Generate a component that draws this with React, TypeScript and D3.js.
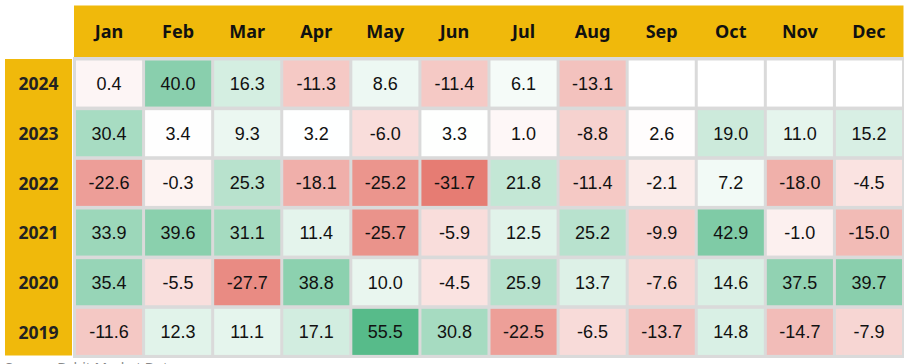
import * as d3 from 'd3';
import { useEffect, useRef } from 'react';

const months = ['Jan', 'Feb', 'Mar', 'Apr', 'May', 'Jun', 'Jul', 'Aug', 'Sep', 'Oct', 'Nov', 'Dec'];
const years = ['2024', '2023', '2022', '2021', '2020', '2019'];

const r2024 = [0.4, 40.0, 16.3, -11.3, 8.6, -11.4, 6.1, -13.1, null, null, null, null];
const r2023 = [30.4, 3.4, 9.3, 3.2, -6.0, 3.3, 1.0, -8.8, 2.6, 19.0, 11.0, 15.2];
const r2022 = [-22.6, -0.3, 25.3, -18.1, -25.2, -31.7, 21.8, -11.4, -2.1, 7.2, -18.0, -4.5];
const r2021 = [33.9, 39.6, 31.1, 11.4, -25.7, -5.9, 12.5, 25.2, -9.9, 42.9, -1.0, -15.0];
const r2020 = [35.4, -5.5, -27.7, 38.8, 10.0, -4.5, 25.9, 13.7, -7.6, 14.6, 37.5, 39.7];
const r2019 = [-11.6, 12.3, 11.1, 17.1, 55.5, 30.8, -22.5, -6.5, -13.7, 14.8, -14.7, -7.9];

const rows: (number | null)[][] = [r2024, r2023, r2022, r2021, r2020, r2019];

const YELLOW = '#f0b90b';
const W = 907;
const H = 364;

export default function App() {
  const svgRef = useRef<SVGSVGElement>(null);

  useEffect(() => {
    if (!svgRef.current) return;
    const svg = d3.select(svgRef.current);
    svg.selectAll('*').remove();

    const x = d3.scaleBand().domain(months).range([74.5, 903.5]);
    const y = d3.scaleBand().domain(years).range([58.5, 356.5]);

    const all = rows.flat().filter((v): v is number => v !== null);
    const color = d3.scaleLinear<string>()
      .domain([d3.min(all) ?? -30, 3, d3.max(all) ?? 50])
      .range(['#e67c73', '#ffffff', '#57bb8a'])
      .clamp(true);

    // header band
    svg.append('rect')
      .attr('x', 74).attr('y', 5.5)
      .attr('width', 829.5).attr('height', 51.5)
      .attr('fill', YELLOW);

    svg.selectAll('.hdr')
      .data(months)
      .join('text')
      .attr('class', 'hdr')
      .attr('x', d => (x(d) ?? 0) + x.bandwidth() / 2)
      .attr('y', 31.5)
      .attr('dy', '0.35em')
      .attr('text-anchor', 'middle')
      .style('font-family', '"Noto Sans", sans-serif')
      .style('font-weight', 700)
      .style('font-size', '18px')
      .style('fill', '#111')
      .text(d => d);

    // year column
    svg.append('rect')
      .attr('x', 5).attr('y', 59)
      .attr('width', 67).attr('height', 296.5)
      .attr('fill', YELLOW);

    svg.selectAll('.yr')
      .data(years)
      .join('text')
      .attr('class', 'yr')
      .attr('x', 38.5)
      .attr('y', d => (y(d) ?? 0) + y.bandwidth() / 2 + 1)
      .attr('dy', '0.35em')
      .attr('text-anchor', 'middle')
      .style('font-family', '"Noto Sans", sans-serif')
      .style('font-weight', 700)
      .style('font-size', '17.5px')
      .style('fill', '#222')
      .text(d => d);

    // grid background
    svg.append('rect')
      .attr('x', 73).attr('y', 57)
      .attr('width', 831).attr('height', 301)
      .attr('fill', '#dadada');

    const cells = rows.flatMap((row, i) =>
      row.map((v, j) => ({ year: years[i], month: months[j], v }))
    );

    const g = svg.append('g');
    g.selectAll('rect')
      .data(cells)
      .join('rect')
      .attr('x', d => (x(d.month) ?? 0) + 1.5)
      .attr('y', d => (y(d.year) ?? 0) + 2)
      .attr('width', x.bandwidth() - 3)
      .attr('height', y.bandwidth() - 3.6)
      .attr('fill', d => (d.v === null ? '#ffffff' : color(d.v)));

    g.selectAll('text')
      .data(cells.filter(d => d.v !== null))
      .join('text')
      .attr('x', d => (x(d.month) ?? 0) + x.bandwidth() / 2)
      .attr('y', d => (y(d.year) ?? 0) + y.bandwidth() / 2 + 0.5)
      .attr('dy', '0.35em')
      .attr('text-anchor', 'middle')
      .style('font-family', '"Liberation Sans", Arial, sans-serif')
      .style('font-size', '18px')
      .style('fill', '#111')
      .text(d => (d.v as number).toFixed(1));

    svg.append('text')
      .attr('x', 5)
      .attr('y', 373)
      .style('font-family', '"Noto Sans", sans-serif')
      .style('font-size', '14px')
      .style('fill', '#888')
      .text('Source: Bybit Market Data');
  }, []);

  return (
    <svg
      ref={svgRef}
      width={W}
      height={H}
      style={{ position: 'absolute', left: 0, top: 0, background: '#fff' }}
    />
  );
}
